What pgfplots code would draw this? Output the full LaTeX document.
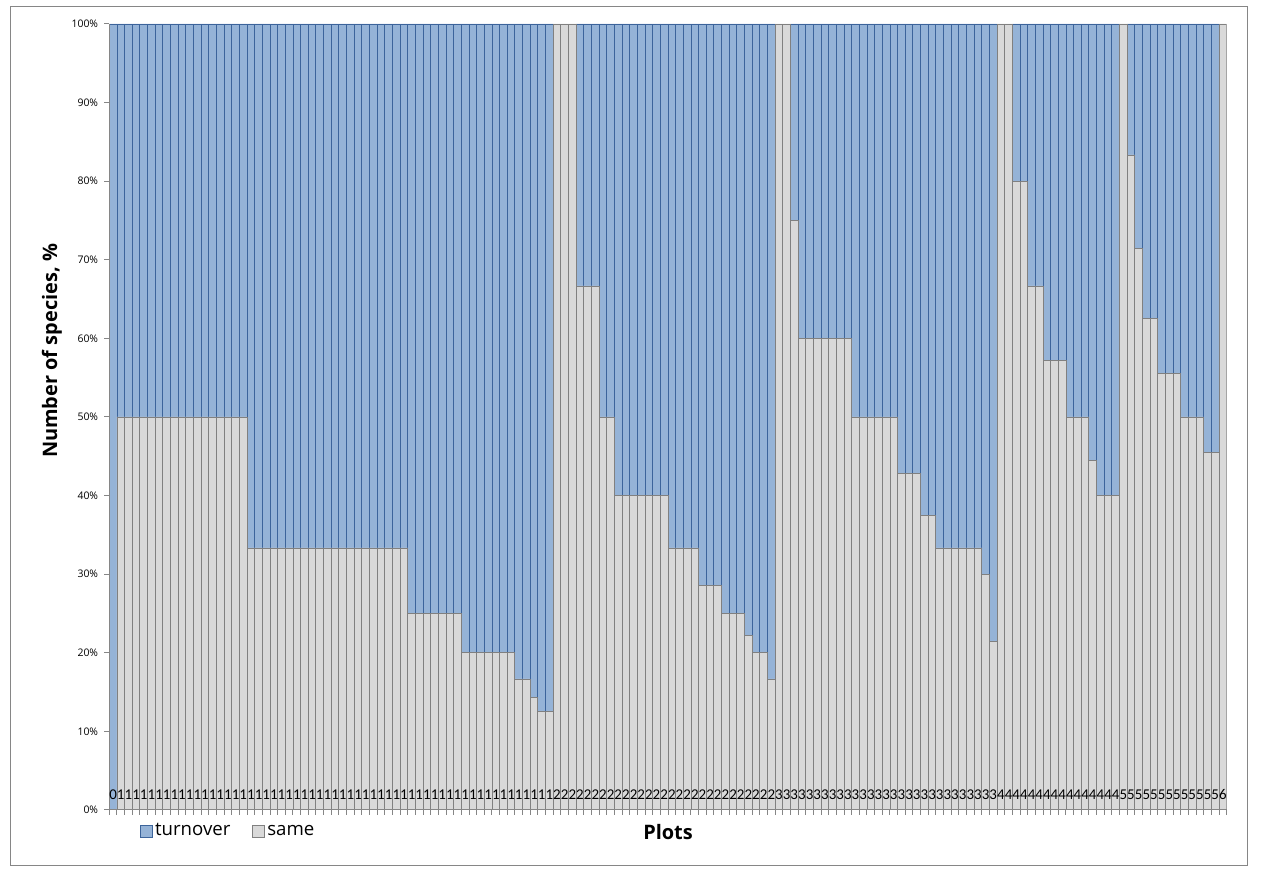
\documentclass[border=0pt]{standalone}
\usepackage{pgfplots}
\pgfplotsset{compat=1.18}
\usepackage{pgfplotstable}
\usepackage{fontspec}
\setmainfont{Carlito}
\newfontfamily\osans{Open Sans}
\definecolor{tblue}{RGB}{149,179,215}
\definecolor{tbluee}{RGB}{60,100,155}
\definecolor{sgrey}{RGB}{217,217,217}
\definecolor{sgreye}{RGB}{128,128,128}
\definecolor{axgrey}{RGB}{134,134,134}

\pgfplotstableread{
x same turn lab
0 0 100 0
1 50 50 1
2 50 50 1
3 50 50 1
4 50 50 1
5 50 50 1
6 50 50 1
7 50 50 1
8 50 50 1
9 50 50 1
10 50 50 1
11 50 50 1
12 50 50 1
13 50 50 1
14 50 50 1
15 50 50 1
16 50 50 1
17 50 50 1
18 33.333 66.667 1
19 33.333 66.667 1
20 33.333 66.667 1
21 33.333 66.667 1
22 33.333 66.667 1
23 33.333 66.667 1
24 33.333 66.667 1
25 33.333 66.667 1
26 33.333 66.667 1
27 33.333 66.667 1
28 33.333 66.667 1
29 33.333 66.667 1
30 33.333 66.667 1
31 33.333 66.667 1
32 33.333 66.667 1
33 33.333 66.667 1
34 33.333 66.667 1
35 33.333 66.667 1
36 33.333 66.667 1
37 33.333 66.667 1
38 33.333 66.667 1
39 25 75 1
40 25 75 1
41 25 75 1
42 25 75 1
43 25 75 1
44 25 75 1
45 25 75 1
46 20 80 1
47 20 80 1
48 20 80 1
49 20 80 1
50 20 80 1
51 20 80 1
52 20 80 1
53 16.667 83.333 1
54 16.667 83.333 1
55 14.286 85.714 1
56 12.5 87.5 1
57 12.5 87.5 1
58 100 0 2
59 100 0 2
60 100 0 2
61 66.667 33.333 2
62 66.667 33.333 2
63 66.667 33.333 2
64 50 50 2
65 50 50 2
66 40 60 2
67 40 60 2
68 40 60 2
69 40 60 2
70 40 60 2
71 40 60 2
72 40 60 2
73 33.333 66.667 2
74 33.333 66.667 2
75 33.333 66.667 2
76 33.333 66.667 2
77 28.571 71.429 2
78 28.571 71.429 2
79 28.571 71.429 2
80 25 75 2
81 25 75 2
82 25 75 2
83 22.222 77.778 2
84 20 80 2
85 20 80 2
86 16.667 83.333 2
87 100 0 3
88 100 0 3
89 75 25 3
90 60 40 3
91 60 40 3
92 60 40 3
93 60 40 3
94 60 40 3
95 60 40 3
96 60 40 3
97 50 50 3
98 50 50 3
99 50 50 3
100 50 50 3
101 50 50 3
102 50 50 3
103 42.857 57.143 3
104 42.857 57.143 3
105 42.857 57.143 3
106 37.5 62.5 3
107 37.5 62.5 3
108 33.333 66.667 3
109 33.333 66.667 3
110 33.333 66.667 3
111 33.333 66.667 3
112 33.333 66.667 3
113 33.333 66.667 3
114 30 70 3
115 21.429 78.571 3
116 100 0 4
117 100 0 4
118 80 20 4
119 80 20 4
120 66.667 33.333 4
121 66.667 33.333 4
122 57.143 42.857 4
123 57.143 42.857 4
124 57.143 42.857 4
125 50 50 4
126 50 50 4
127 50 50 4
128 44.444 55.556 4
129 40 60 4
130 40 60 4
131 40 60 4
132 100 0 5
133 83.333 16.667 5
134 71.429 28.571 5
135 62.5 37.5 5
136 62.5 37.5 5
137 55.556 44.444 5
138 55.556 44.444 5
139 55.556 44.444 5
140 50 50 5
141 50 50 5
142 50 50 5
143 45.455 54.545 5
144 45.455 54.545 5
145 100 0 6
}\datatable

\begin{document}
\begin{tikzpicture}
\path (0bp,0bp) rectangle (1266bp,881bp);
\draw[axgrey, line width=1bp] (10bp,15bp) rectangle (1247bp,874bp);
\begin{axis}[
  at={(109.3bp,71bp)}, anchor=south west,
  scale only axis, width=1117.4bp, height=786bp,
  axis on top,
  ybar stacked, bar width=1,
  xmin=-0.5, xmax=145.5, ymin=0, ymax=100,
  axis lines*=left,
  axis line style={axgrey, line width=1bp},
  xtick=data, xticklabels from table={\datatable}{lab},
  minor xtick={-0.5,0.5,...,145.5},
  ytick={0,10,...,100}, minor ytick={0,10,...,100},
  yticklabels={0\%,10\%,20\%,30\%,40\%,50\%,60\%,70\%,80\%,90\%,100\%},
  major tick length=0pt, minor tick length=5bp,
  tick align=outside,
  tick style={axgrey, line width=1bp},
  xticklabel style={font=\fontsize{15}{18}\selectfont, anchor=base, yshift=10bp, inner sep=0pt, text=black},
  yticklabel style={font=\osans\fontsize{10.5}{13}\selectfont, anchor=east, xshift=-11bp, inner sep=0pt, text=black},
  xlabel={Plots}, ylabel={Number of species, \%},
  xlabel style={at={(axis description cs:0.5,-0.028)}, anchor=center, font=\osans\bfseries\fontsize{20}{24}\selectfont},
  ylabel style={at={(axis description cs:-0.0513,0.584)}, anchor=center, font=\osans\bfseries\fontsize{20}{24}\selectfont},
  reverse legend,
  legend style={at={(axis description cs:0.0248,-0.0267)}, anchor=west, draw=none, fill=none,
    font=\osans\fontsize{18.7}{22}\selectfont, legend columns=2,
    nodes={text height=13bp, text depth=4bp},
    /tikz/every even column/.append style={column sep=20bp}},
]
\addplot[fill=sgrey, draw=sgreye, line width=0.9bp,
  legend image code/.code={\draw[fill=sgrey, draw=sgreye, line width=0.9bp] (0bp,-6bp) rectangle (12bp,6bp);}]
  table[x=x, y=same] {\datatable};
\addlegendentry{same}
\addplot[fill=tblue, draw=tbluee, line width=0.9bp,
  legend image code/.code={\draw[fill=tblue, draw=tbluee, line width=0.9bp] (0bp,-6bp) rectangle (12bp,6bp);}]
  table[x=x, y=turn] {\datatable};
\addlegendentry{turnover}
\end{axis}
\end{tikzpicture}
\end{document}
